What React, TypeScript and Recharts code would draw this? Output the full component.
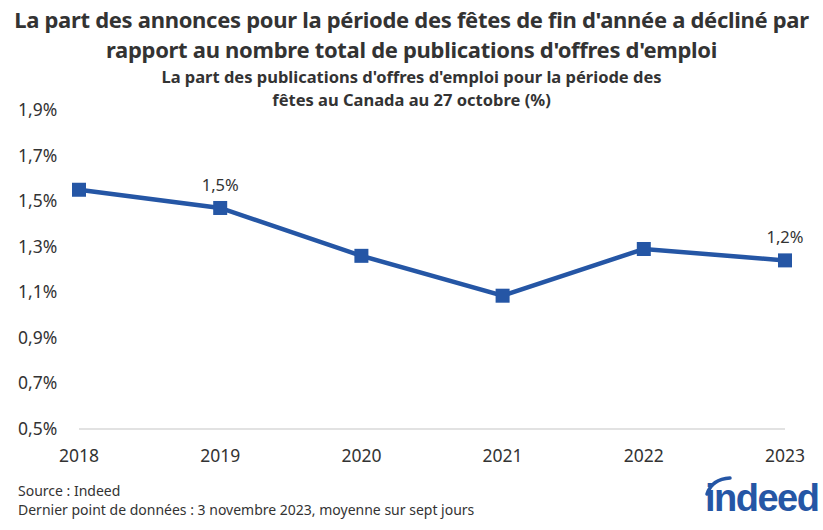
import { LineChart, Line, XAxis, YAxis, LabelList } from "recharts"

const years = ["2018", "2019", "2020", "2021", "2022", "2023"]
const share = [1.55, 1.47, 1.26, 1.085, 1.29, 1.24]
const shownLabels = ["", "1,5%", "", "", "", "1,2%"]
const yTicks = [0.5, 0.7, 0.9, 1.1, 1.3, 1.5, 1.7, 1.9]

const data = years.map((year, i) => ({ year, share: share[i], label: shownLabels[i] }))

const BLUE = "#2556a5"
const TEXT = "#333333"
const FONT = "'Noto Sans', sans-serif"

const fmt = (v: number) => v.toFixed(1).replace(".", ",") + "%"

function YTick(props: any) {
  const { y, payload } = props
  return (
    <text x={18} y={y} dy={6} textAnchor="start" fill={TEXT} fontSize={17.5} fontFamily={FONT}>
      {fmt(payload.value)}
    </text>
  )
}

function SquareDot(props: any) {
  const { cx, cy } = props
  if (cx == null || cy == null) return null
  return <rect x={cx - 7} y={cy - 7} width={14} height={14} fill={BLUE} />
}

function PointLabel(props: any) {
  const { x, y, value } = props
  if (!value) return null
  return (
    <text x={x} y={y - 17} textAnchor="middle" fill={TEXT} fontSize={16.5} fontFamily={FONT}>
      {value}
    </text>
  )
}

export default function App() {
  return (
    <div style={{ position: "absolute", left: 0, top: 0, width: 823, height: 530, background: "#fff", fontFamily: FONT, color: TEXT }}>
      <div style={{ position: "absolute", top: 4, left: 0, width: 823, textAlign: "center", fontWeight: 700, fontSize: 22, lineHeight: "30px", letterSpacing: -0.3 }}>
        La part des annonces pour la période des fêtes de fin d'année a décliné par
        <br />
        rapport au nombre total de publications d'offres d'emploi
      </div>
      <div style={{ position: "absolute", top: 65, left: 0, width: 823, textAlign: "center", fontWeight: 700, fontSize: 16.5, lineHeight: "23px" }}>
        La part des publications d'offres d'emploi pour la période des
        <br />
        fêtes au Canada au 27 octobre (%)
      </div>
      <div style={{ position: "absolute", top: 0, left: 0 }}>
        <LineChart width={823} height={530} data={data} margin={{ top: 110, right: 38, bottom: 71, left: 18 }}>
          <XAxis
            dataKey="year"
            height={30}
            axisLine={{ stroke: "#d9d9d9", strokeWidth: 1.5 }}
            tickLine={false}
            tick={{ fill: TEXT, fontSize: 17.5, fontFamily: FONT }}
            tickMargin={15}
            interval={0}
          />
          <YAxis
            domain={[0.5, 1.9]}
            ticks={yTicks}
            width={61}
            axisLine={false}
            tickLine={false}
            tick={<YTick />}
          />
          <Line
            dataKey="share"
            stroke={BLUE}
            strokeWidth={4.5}
            dot={<SquareDot />}
            activeDot={false}
            isAnimationActive={false}
          >
            <LabelList dataKey="label" content={<PointLabel />} />
          </Line>
        </LineChart>
      </div>
      <div style={{ position: "absolute", top: 481, left: 18, fontSize: 14, lineHeight: "19px" }}>
        Source : Indeed
        <br />
        Dernier point de données : 3 novembre 2023, moyenne sur sept jours
      </div>
      <div style={{ position: "absolute", top: 472, left: 700, width: 123, height: 54 }}>
        <svg width={123} height={54} style={{ position: "absolute", left: 0, top: 0 }}>
          <path d="M 7 22 Q 12 7 30 6" stroke={BLUE} strokeWidth={3.5} fill="none" strokeLinecap="round" />
        </svg>
        <div style={{ position: "absolute", left: 5, top: 3, fontSize: 38, fontWeight: 700, color: BLUE, letterSpacing: -1.5, lineHeight: "46px", fontFamily: "'Liberation Sans', sans-serif" }}>
          indeed
        </div>
      </div>
    </div>
  )
}
